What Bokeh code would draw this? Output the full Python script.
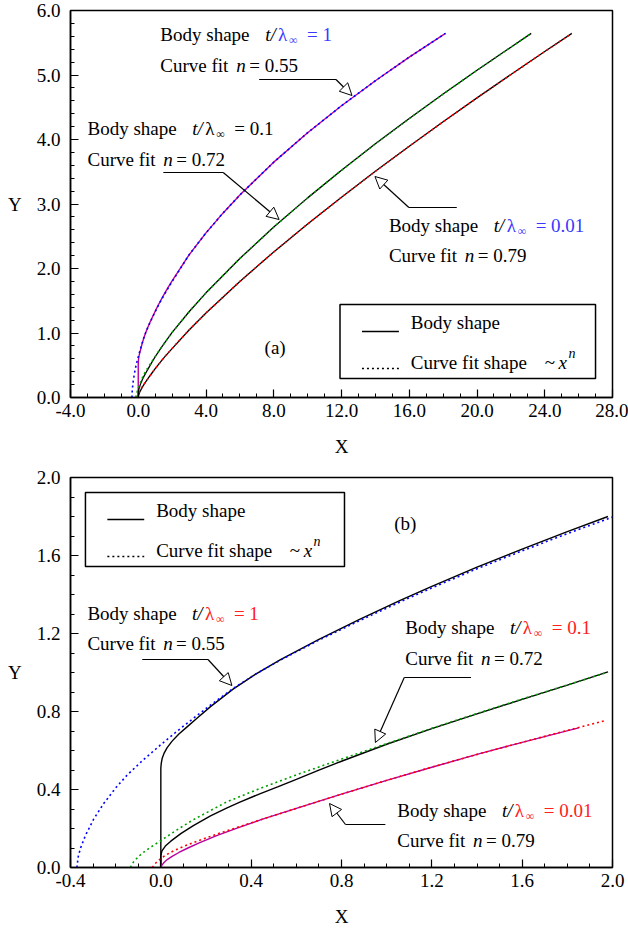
from bokeh.plotting import figure
from bokeh.models import Range1d, FixedTicker, PrintfTickFormatter, Label, Arrow, NormalHead, BoxAnnotation
from bokeh.layouts import column
from bokeh.embed import file_html
from bokeh.resources import INLINE

# ---------------- data ----------------
# t/lambda = 1  (n = 0.55), detail near the nose
body1_x = [0, 0, 0.002, 0.006, 0.014, 0.028, 0.05, 0.08, 0.115, 0.16, 0.22, 0.32, 0.42, 0.53, 0.70, 0.88, 1.06, 1.20, 1.40, 1.60, 1.80, 1.98]
body1_y = [0, 0.51, 0.535, 0.56, 0.585, 0.615, 0.648, 0.685, 0.72, 0.765, 0.825, 0.915, 0.992, 1.066, 1.17, 1.272, 1.37, 1.442, 1.54, 1.633, 1.722, 1.80]
fit1_x = [-0.372, -0.365, -0.355, -0.334, -0.297, -0.253, -0.20, -0.15, -0.077, 0.0, 0.071, 0.144, 0.22, 0.32, 0.42, 0.53, 0.70, 0.88, 1.06, 1.20, 1.40, 1.60, 1.80, 2.00]
fit1_y = [0.0, 0.061, 0.101, 0.164, 0.249, 0.328, 0.408, 0.473, 0.553, 0.63, 0.698, 0.765, 0.833, 0.918, 0.992, 1.064, 1.166, 1.266, 1.362, 1.434, 1.532, 1.624, 1.712, 1.797]

# t/lambda = 0.1  (n = 0.72)
body2_x = [0, 0, 0.005, 0.02, 0.044, 0.09, 0.144, 0.22, 0.291, 0.35, 0.438, 0.52, 0.60, 0.70, 0.80, 1.00, 1.20, 1.40, 1.60, 1.80, 1.98]
body2_y = [0, 0.06, 0.085, 0.11, 0.135, 0.175, 0.215, 0.265, 0.305, 0.335, 0.378, 0.415, 0.452, 0.499, 0.545, 0.632, 0.712, 0.788, 0.862, 0.935, 1.003]
fit2_x = [-0.135, -0.12, -0.10, -0.077, -0.05, 0.0, 0.07, 0.144, 0.22, 0.291, 0.438, 0.60, 0.80, 1.00, 1.20, 1.40, 1.60, 1.80, 1.98]
fit2_y = [0.0, 0.03, 0.055, 0.078, 0.10, 0.138, 0.192, 0.245, 0.292, 0.336, 0.405, 0.475, 0.556, 0.635, 0.714, 0.79, 0.864, 0.936, 1.002]

# t/lambda = 0.01  (n = 0.79)
body3_x = [0, 0.005, 0.015, 0.03, 0.05, 0.08, 0.12, 0.17, 0.25, 0.35, 0.45, 0.60, 0.80, 1.00, 1.20, 1.40, 1.60, 1.85]
body3_y = [0, 0.012, 0.027, 0.042, 0.057, 0.077, 0.10, 0.126, 0.165, 0.207, 0.248, 0.303, 0.376, 0.447, 0.514, 0.58, 0.642, 0.716]
fit3_x = [-0.038, -0.025, -0.01, 0.0, 0.02, 0.044, 0.08, 0.12, 0.17, 0.25, 0.35, 0.45, 0.60, 0.80, 1.00, 1.20, 1.40, 1.60, 1.80, 1.97]
fit3_y = [0.0, 0.02, 0.036, 0.046, 0.062, 0.078, 0.098, 0.117, 0.139, 0.172, 0.21, 0.248, 0.303, 0.376, 0.447, 0.515, 0.58, 0.642, 0.703, 0.754]

# far part of the shapes (panel a)
ext1_x = [3, 4, 5, 6, 8, 10, 12, 14, 16, 18.14]
ext1_y = [2.212, 2.552, 2.858, 3.140, 3.649, 4.105, 4.523, 4.911, 5.277, 5.645]
ext2_x = [3, 4, 6, 8, 10, 12, 14, 16, 18, 20, 22, 23.2]
ext2_y = [1.330, 1.623, 2.156, 2.642, 3.095, 3.523, 3.933, 4.325, 4.705, 5.073, 5.431, 5.645]
ext3_x = [3, 4, 6, 8, 10, 12, 14, 16, 18, 20, 22, 24, 25.6]
ext3_y = [1.046, 1.310, 1.800, 2.257, 2.690, 3.105, 3.507, 3.896, 4.274, 4.645, 5.007, 5.364, 5.645]

# ticks
a_xticks = [-4, 0, 4, 8, 12, 16, 20, 24, 28]
a_yticks = [0, 1, 2, 3, 4, 5, 6]
b_xticks = [-0.4, 0.0, 0.4, 0.8, 1.2, 1.6, 2.0]
b_yticks = [0.0, 0.4, 0.8, 1.2, 1.6, 2.0]

FONT = "Liberation Serif"
W = 628
BLUE = "#0000ff"
GREEN = "#00a000"
RED = "#ff0000"
MAG = "#b8009c"
TBLUE = "#3838ff"
TRED = "#ff2020"

# frame geometry in page pixels: left, right, top, bottom, xrange, yrange
GA = dict(L=69, R=612, T=10, B=397, xr=(-4, 28), yr=(0, 6))
GB = dict(L=70, R=614, T=477, B=867, xr=(-0.4, 2.0), yr=(0, 2.0))
TOP_H = 464
BOT_H = 936 - TOP_H


def px2x(g, px):
    return g["xr"][0] + (px - g["L"]) / (g["R"] - g["L"]) * (g["xr"][1] - g["xr"][0])


def py2y(g, py):
    return g["yr"][0] + (g["B"] - py) / (g["B"] - g["T"]) * (g["yr"][1] - g["yr"][0])


def make_fig(g, page_top, h, xticks, xminor, yticks, yminor):
    p = figure(width=W, height=h, x_range=Range1d(*g["xr"]), y_range=Range1d(*g["yr"]),
               output_backend="svg", toolbar_location=None,
               min_border_left=g["L"], min_border_right=W - g["R"],
               min_border_top=g["T"] - page_top, min_border_bottom=page_top + h - g["B"])
    p.xgrid.visible = False
    p.ygrid.visible = False
    p.outline_line_color = "black"
    p.outline_line_width = 1.5
    p.outline_line_alpha = 1
    p.background_fill_color = "white"
    p.border_fill_color = "white"
    for ax, ticks, minor in ((p.xaxis[0], xticks, xminor), (p.yaxis[0], yticks, yminor)):
        ax.ticker = FixedTicker(ticks=ticks, minor_ticks=minor)
        ax.formatter = PrintfTickFormatter(format="%.1f")
        ax.major_tick_in = 8
        ax.major_tick_out = 0
        ax.minor_tick_in = 4
        ax.minor_tick_out = 0
        ax.axis_line_width = 1.5
        ax.major_tick_line_width = 1.2
        ax.minor_tick_line_width = 1
        ax.major_label_text_font = FONT
        ax.major_label_text_font_size = "19px"
        ax.major_label_text_color = "black"
        ax.axis_label_text_font = FONT
        ax.axis_label_text_font_size = "19px"
        ax.axis_label_text_font_style = "normal"
        ax.axis_label_text_color = "black"
    p.xaxis[0].major_label_standoff = 6
    p.yaxis[0].major_label_standoff = 10
    p.xaxis[0].axis_label = "X"
    p.yaxis[0].axis_label = "Y"
    p.xaxis[0].axis_label_standoff = 16
    p.yaxis[0].axis_label_standoff = 12
    try:
        p.yaxis[0].axis_label_orientation = "horizontal"
    except Exception:
        pass
    return p


def txt(p, g, px, cy, text, color="black", size=19, style="normal", align="left"):
    p.add_layout(Label(x=px2x(g, px), y=py2y(g, cy), text=text, text_font=FONT,
                       text_font_size=f"{size}px", text_color=color, text_font_style=style,
                       text_align=align, text_baseline="middle"))


def body_label(p, g, px, cy, val, color):
    txt(p, g, px, cy, "Body shape")
    txt(p, g, px + 105, cy, "t/", style="italic")
    txt(p, g, px + 118, cy, "λ", color)
    txt(p, g, px + 129, cy + 5, "∞", color, size=12)
    txt(p, g, px + 147, cy, "= " + val, color)


def fit_label(p, g, px, cy, val):
    txt(p, g, px, cy, "Curve fit")
    txt(p, g, px + 76, cy, "n", style="italic")
    txt(p, g, px + 89, cy, "= " + val)


def seg(p, g, x0, y0, x1, y1, dash="solid", width=1.2):
    p.add_layout(Arrow(x_start=px2x(g, x0), y_start=py2y(g, y0), x_end=px2x(g, x1), y_end=py2y(g, y1),
                       start=None, end=None, line_color="black", line_width=width, line_dash=dash))


def callout(p, g, pts):
    (x0, y0), (x1, y1), (x2, y2) = pts
    seg(p, g, x0, y0, x1, y1)
    p.add_layout(Arrow(x_start=px2x(g, x1), y_start=py2y(g, y1), x_end=px2x(g, x2), y_end=py2y(g, y2),
                       start=None, end=NormalHead(size=12, fill_color="white", line_color="black", line_width=1),
                       line_color="black", line_width=1.2))


def legend_box(p, g, bl, bt, bw):
    p.add_layout(BoxAnnotation(left=px2x(g, bl), right=px2x(g, bl + bw), top=py2y(g, bt), bottom=py2y(g, bt + 74),
                               fill_color="white", fill_alpha=1, line_color="black", line_width=1.5, line_alpha=1))
    seg(p, g, bl + 22, bt + 27, bl + 59, bt + 27, width=1.3)
    txt(p, g, bl + 71, bt + 18, "Body shape")
    seg(p, g, bl + 22, bt + 64, bl + 59, bt + 64, dash="2 3", width=1.6)
    txt(p, g, bl + 71, bt + 58, "Curve fit shape")
    txt(p, g, bl + 205, bt + 58, "~")
    txt(p, g, bl + 219, bt + 58, "x", style="italic")
    txt(p, g, bl + 229, bt + 49, "n", style="italic", size=14)


DOT = "2 3"

# ---------------- panel (a) ----------------
pa = make_fig(GA, 0, TOP_H, a_xticks, list(range(-4, 29)), a_yticks, [i * 0.2 for i in range(31)])
pa.line(body1_x + ext1_x, body1_y + ext1_y, line_color=MAG, line_width=1.4)
pa.line(fit1_x + ext1_x, fit1_y + ext1_y, line_color=BLUE, line_width=1.6, line_dash=DOT)
pa.line(body2_x + ext2_x, body2_y + ext2_y, line_color="black", line_width=1.3)
pa.line(fit2_x + ext2_x, fit2_y + ext2_y, line_color=GREEN, line_width=1.6, line_dash=DOT)
pa.line(body3_x + ext3_x, body3_y + ext3_y, line_color="black", line_width=1.3)
pa.line(fit3_x + ext3_x, fit3_y + ext3_y, line_color=RED, line_width=1.6, line_dash=DOT)

body_label(pa, GA, 159, 34, "1", TBLUE)
fit_label(pa, GA, 159, 65, "0.55")
body_label(pa, GA, 86, 128, "0.1", "black")
fit_label(pa, GA, 86, 159, "0.72")
body_label(pa, GA, 388, 225, "0.01", TBLUE)
fit_label(pa, GA, 388, 255, "0.79")
callout(pa, GA, [(258, 79), (335, 79), (351, 95)])
callout(pa, GA, [(162, 172), (222, 172), (278, 219)])
callout(pa, GA, [(456, 207), (408, 207), (374, 176)])
legend_box(pa, GA, 339, 304, 256)
txt(pa, GA, 274, 347, "(a)", align="center")

# ---------------- panel (b) ----------------
pb = make_fig(GB, TOP_H, BOT_H, b_xticks, [round(-0.4 + i * 0.1, 2) for i in range(25)],
              b_yticks, [round(i * 0.1, 2) for i in range(21)])
pb.line(body1_x, body1_y, line_color="black", line_width=1.4)
pb.line(fit1_x, fit1_y, line_color=BLUE, line_width=1.6, line_dash=DOT)
pb.line(body2_x, body2_y, line_color="black", line_width=1.4)
pb.line(fit2_x, fit2_y, line_color=GREEN, line_width=1.6, line_dash=DOT)
pb.line(body3_x, body3_y, line_color=MAG, line_width=1.4)
pb.line(fit3_x, fit3_y, line_color=RED, line_width=1.6, line_dash=DOT)

body_label(pb, GB, 87, 613, "1", TRED)
fit_label(pb, GB, 87, 643, "0.55")
body_label(pb, GB, 406, 627, "0.1", TRED)
fit_label(pb, GB, 406, 658, "0.72")
body_label(pb, GB, 398, 810, "0.01", TRED)
fit_label(pb, GB, 398, 840, "0.79")
callout(pb, GB, [(142, 659), (208, 659), (232, 685)])
callout(pb, GB, [(472, 677), (405, 677), (376, 742)])
callout(pb, GB, [(386, 824), (346, 824), (330, 803)])
legend_box(pb, GB, 85, 492, 260)
txt(pb, GB, 406, 523, "(b)", align="center")

layout = column(pa, pb)
open("out.html", "w").write(file_html(layout, INLINE))
